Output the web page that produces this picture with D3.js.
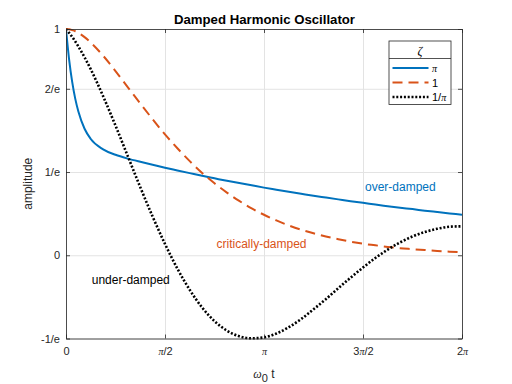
<!DOCTYPE html>
<html>
<head>
<meta charset="utf-8">
<script src="https://cdn.jsdelivr.net/npm/d3@7"></script>
<style>
  body { margin: 0; background: #fff; }
  text { font-family: "Liberation Sans", Arial, sans-serif; fill: #262626; }
</style>
</head>
<body>
<svg id="chart" width="512" height="384"></svg>
<script>
// time, in units of pi
var tPi = [0, 0.015625, 0.03125, 0.046875, 0.0625, 0.09375, 0.125, 0.1875, 0.25, 0.3125, 0.375, 0.4375,
  0.5, 0.5625, 0.625, 0.6875, 0.75, 0.8125, 0.875, 0.9375, 1, 1.0625, 1.125, 1.1875, 1.25, 1.3125,
  1.375, 1.4375, 1.5, 1.5625, 1.625, 1.6875, 1.75, 1.8125, 1.875, 1.9375, 2];

// zeta = pi
var overDamped = [1, 0.866, 0.766, 0.691, 0.635, 0.559, 0.514, 0.468, 0.444, 0.427, 0.413, 0.400,
  0.387, 0.375, 0.363, 0.351, 0.340, 0.329, 0.319, 0.309, 0.299, 0.290, 0.281, 0.272, 0.263, 0.255,
  0.247, 0.239, 0.232, 0.224, 0.217, 0.210, 0.204, 0.197, 0.191, 0.185, 0.179];

// zeta = 1
var critDamped = [1, 0.999, 0.995, 0.990, 0.983, 0.964, 0.940, 0.882, 0.814, 0.742, 0.671, 0.601,
  0.534, 0.473, 0.416, 0.364, 0.318, 0.277, 0.240, 0.207, 0.179, 0.154, 0.132, 0.113, 0.097, 0.083,
  0.071, 0.060, 0.051, 0.044, 0.037, 0.031, 0.027, 0.023, 0.019, 0.016, 0.014];

// zeta = 1/pi
var underDamped = [1, 0.983, 0.965, 0.945, 0.923, 0.875, 0.822, 0.703, 0.573, 0.437, 0.301, 0.171,
  0.050, -0.059, -0.153, -0.231, -0.291, -0.333, -0.358, -0.367, -0.363, -0.346, -0.318, -0.282,
  -0.239, -0.194, -0.146, -0.099, -0.054, -0.012, 0.025, 0.057, 0.083, 0.103, 0.117, 0.126, 0.128];

var xTickVals = [0, 0.5, 1, 1.5, 2];
var xTickLabels = ['0', 'π/2', 'π', '3π/2', '2π'];
var yTickVals = [-1 / Math.E, 0, 1 / Math.E, 2 / Math.E, 1];
var yTickLabels = ['-1/e', '0', '1/e', '2/e', '1'];
var legendLabels = ['π', '1', '1/π'];
var curveLabels = ['over-damped', 'critically-damped', 'under-damped'];

var colors = ['#0072BD', '#D95319', '#000000'];
var dashes = [null, '10,6', '2,1.8'];
var widths = [2, 2, 2.6];

var plotLeft = 66, plotRight = 462, plotTop = 29, plotBottom = 338.5;
var svg = d3.select('#chart');

var x = d3.scaleLinear().domain([0, 2]).range([plotLeft, plotRight]);
var y = d3.scaleLinear().domain([-1 / Math.E, 1]).range([plotBottom, plotTop]);

// write a label, putting pi in a serif tspan
function piText(sel, label, size) {
  sel.text(null);
  label.split(/(π)/).forEach(function (part) {
    if (!part) return;
    var ts = sel.append('tspan').text(part);
    if (part === 'π') {
      ts.style('font-family', '"Liberation Serif", "DejaVu Serif", serif')
        .style('font-style', 'italic')
        .style('font-size', (size - 1) + 'px');
    }
  });
}

// grid
svg.append('g')
  .attr('transform', 'translate(0,' + plotBottom + ')')
  .call(d3.axisBottom(x).tickValues(xTickVals).tickSize(-(plotBottom - plotTop)).tickFormat(''))
  .call(function (g) {
    g.select('.domain').remove();
    g.selectAll('line').attr('stroke', '#e3e3e3');
  });
svg.append('g')
  .attr('transform', 'translate(' + plotLeft + ',0)')
  .call(d3.axisLeft(y).tickValues(yTickVals).tickSize(-(plotRight - plotLeft)).tickFormat(''))
  .call(function (g) {
    g.select('.domain').remove();
    g.selectAll('line').attr('stroke', '#e3e3e3');
  });

// curves
svg.append('clipPath').attr('id', 'clip')
  .append('rect').attr('x', plotLeft).attr('y', plotTop - 2)
  .attr('width', plotRight - plotLeft).attr('height', plotBottom - plotTop + 4);

var series = [overDamped, critDamped, underDamped];
var line = d3.line()
  .x(function (d) { return x(d[0]); })
  .y(function (d) { return y(d[1]); })
  .curve(d3.curveMonotoneX);

svg.append('g').attr('clip-path', 'url(#clip)')
  .selectAll('path')
  .data(series)
  .enter().append('path')
  .attr('d', function (s) { return line(s.map(function (v, i) { return [tPi[i], v]; })); })
  .attr('fill', 'none')
  .attr('stroke', function (d, i) { return colors[i]; })
  .attr('stroke-width', function (d, i) { return widths[i]; })
  .attr('stroke-dasharray', function (d, i) { return dashes[i]; });

// axes
function styleAxis(g) {
  g.selectAll('.domain').attr('stroke', '#262626').attr('stroke-width', 0.8);
  g.selectAll('.tick line').attr('stroke', '#262626').attr('stroke-width', 0.8);
  g.selectAll('text').attr('fill', '#262626').style('font-size', '11px')
    .style('font-family', '"Liberation Sans", Arial, sans-serif');
}

svg.append('g')
  .attr('transform', 'translate(0,' + plotBottom + ')')
  .call(d3.axisBottom(x).tickValues(xTickVals).tickSizeInner(-4).tickSizeOuter(0).tickPadding(9)
    .tickFormat(function (d, i) { return xTickLabels[i]; }))
  .call(styleAxis)
  .call(function (g) {
    g.selectAll('.tick text').each(function (d, i) { piText(d3.select(this), xTickLabels[i], 11); });
  });

svg.append('g')
  .attr('transform', 'translate(0,' + plotTop + ')')
  .call(d3.axisTop(x).tickValues(xTickVals).tickSizeInner(-4).tickSizeOuter(0).tickFormat(''))
  .call(styleAxis);

svg.append('g')
  .attr('transform', 'translate(' + plotLeft + ',0)')
  .call(d3.axisLeft(y).tickValues(yTickVals).tickSizeInner(-4).tickSizeOuter(0).tickPadding(6)
    .tickFormat(function (d, i) { return yTickLabels[i]; }))
  .call(styleAxis);

svg.append('g')
  .attr('transform', 'translate(' + plotRight + ',0)')
  .call(d3.axisRight(y).tickValues(yTickVals).tickSizeInner(-4).tickSizeOuter(0).tickFormat(''))
  .call(styleAxis);

// title and axis labels
svg.append('text')
  .attr('x', 264.5).attr('y', 24)
  .attr('text-anchor', 'middle')
  .style('font-size', '13.2px').style('font-weight', 'bold')
  .style('fill', '#000')
  .text('Damped Harmonic Oscillator');

svg.append('text')
  .attr('transform', 'translate(32,' + ((plotTop + plotBottom) / 2) + ') rotate(-90)')
  .attr('text-anchor', 'middle')
  .style('font-size', '12px')
  .text('amplitude');

var xl = svg.append('text')
  .attr('x', 264).attr('y', 378)
  .attr('text-anchor', 'middle')
  .style('font-size', '12px');
xl.append('tspan').text('ω')
  .style('font-family', '"Liberation Serif", "DejaVu Serif", serif').style('font-style', 'italic');
xl.append('tspan').text('0').attr('dy', 4).style('font-size', '11px');
xl.append('tspan').text(' t').attr('dy', -4);

// curve annotations
var annotT = [1.51, 0.76, 0.13];
var annotY = [0.30, 0.05, -0.11];
svg.append('g').selectAll('text')
  .data(curveLabels)
  .enter().append('text')
  .attr('x', function (d, i) { return x(annotT[i]); })
  .attr('y', function (d, i) { return y(annotY[i]) + 4; })
  .style('fill', function (d, i) { return colors[i]; })
  .style('font-size', '12px')
  .text(function (d) { return d; });

// legend
var lg = svg.append('g').attr('transform', 'translate(389,41)');
lg.append('rect')
  .attr('width', 62).attr('height', 63.5)
  .attr('fill', '#fff').attr('stroke', '#262626').attr('stroke-width', 0.8);
lg.append('line')
  .attr('x1', 0).attr('x2', 62).attr('y1', 17.5).attr('y2', 17.5)
  .attr('stroke', '#262626').attr('stroke-width', 0.8);
lg.append('text')
  .attr('x', 31).attr('y', 13.5)
  .attr('text-anchor', 'middle')
  .style('font-family', '"Liberation Serif", "DejaVu Serif", serif')
  .style('font-style', 'italic').style('font-size', '12px')
  .style('fill', '#000')
  .text('ζ');

var rows = lg.selectAll('.row')
  .data(legendLabels)
  .enter().append('g')
  .attr('class', 'row')
  .attr('transform', function (d, i) { return 'translate(0,' + (27 + i * 14.5) + ')'; });
rows.append('line')
  .attr('x1', 3.5).attr('x2', 39.5)
  .attr('stroke', function (d, i) { return colors[i]; })
  .attr('stroke-width', function (d, i) { return widths[i]; })
  .attr('stroke-dasharray', function (d, i) { return dashes[i]; });
rows.append('text')
  .attr('x', 43).attr('y', 4)
  .style('font-size', '11px')
  .style('fill', '#000')
  .each(function (d) { piText(d3.select(this), d, 11); });
</script>
</body>
</html>
